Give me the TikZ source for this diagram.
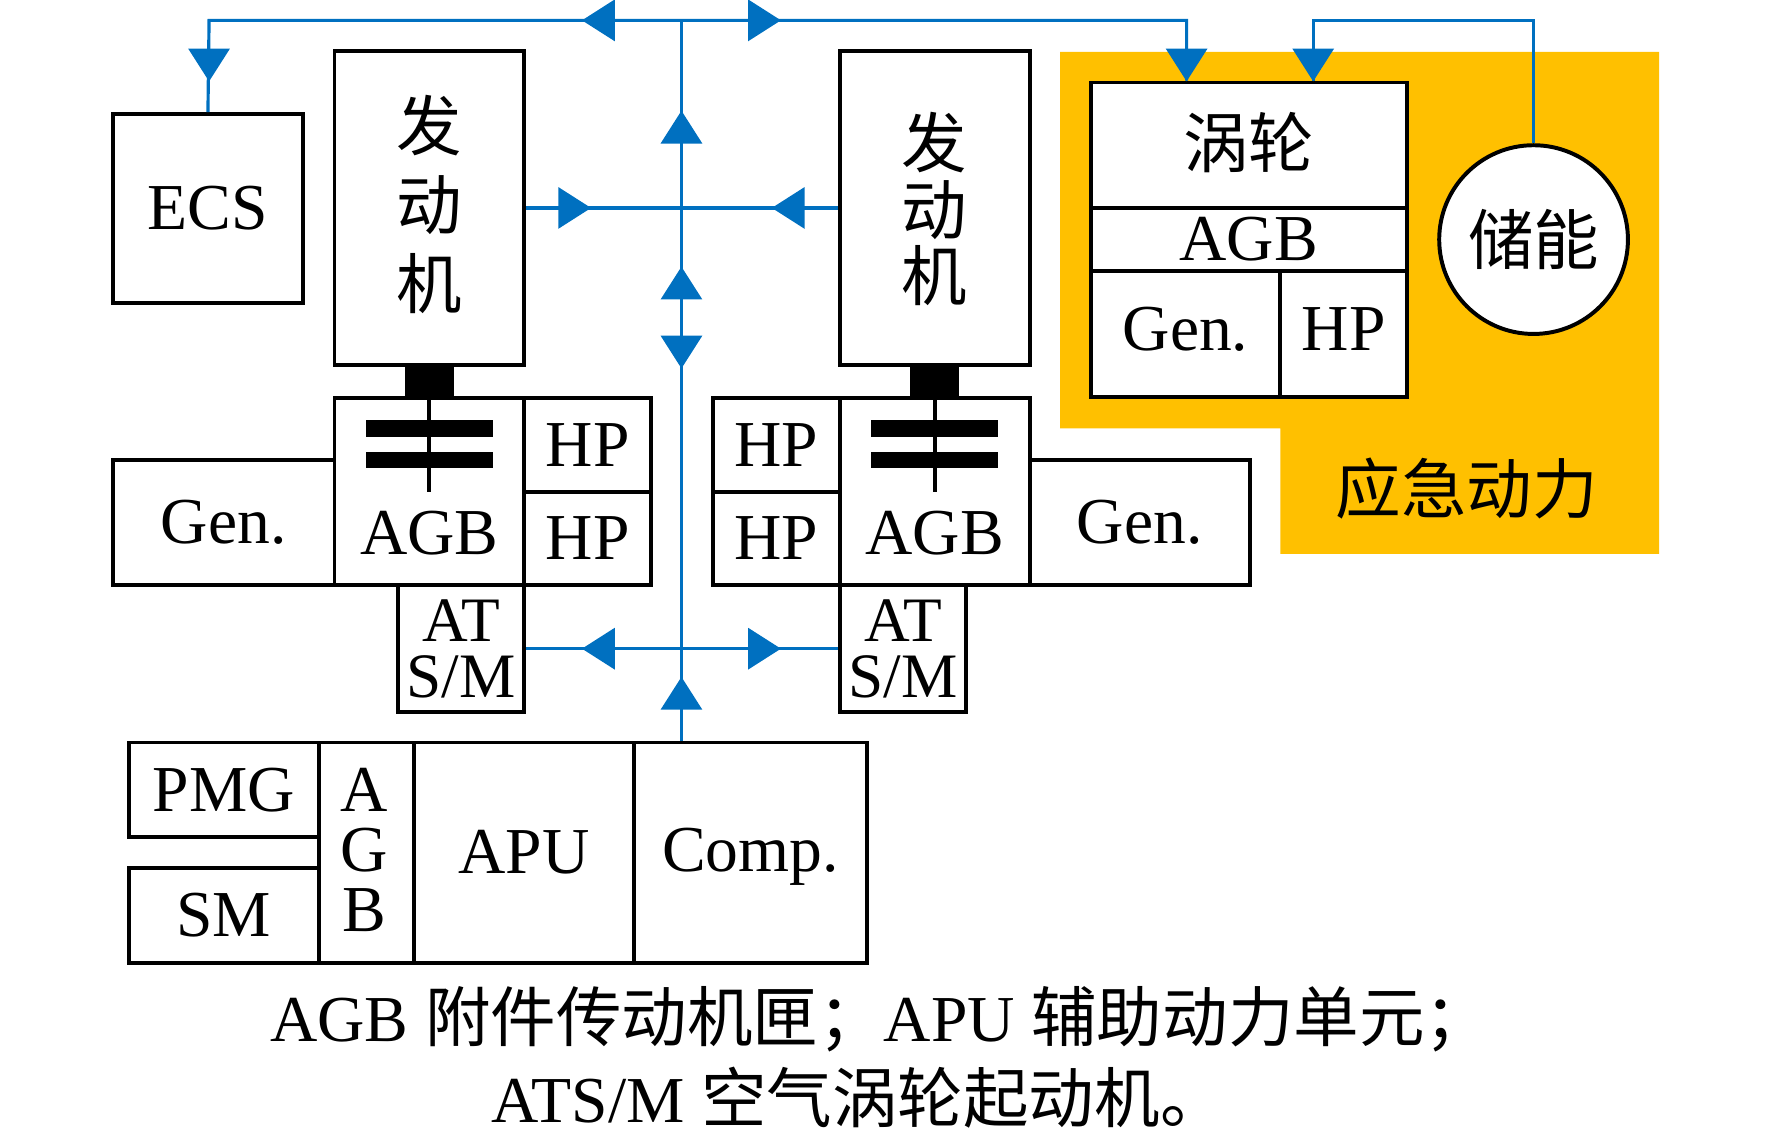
\documentclass[tikz,border=0pt]{standalone}
\usepackage{fontspec}
\setmainfont{Liberation Serif}
\newfontfamily\cjk{Noto Sans CJK SC}
\definecolor{bl}{HTML}{0070C0}
\definecolor{amber}{HTML}{FFC000}
\newcommand\arr[4]{\fill[bl] (#1,#2) -- ({#1-29*#3+18.5*#4},{#2-29*#4-18.5*#3}) -- ({#1-29*#3-18.5*#4},{#2-29*#4+18.5*#3}) -- cycle;}
\tikzset{
  box/.style={draw=black, line width=3.5pt, inner sep=0pt, fill=white, font=\fontsize{58}{58}\selectfont},
  bus/.style={draw=bl, line width=2.8pt},
  lat/.style={font=\fontsize{58}{58}\selectfont, inner sep=0pt},
  han/.style={font=\cjk\fontsize{58}{58}\selectfont, inner sep=0pt},
  bar/.style={fill=black},
}
\begin{document}
\begin{tikzpicture}[x=1pt,y=-1pt]
\useasboundingbox (0,0) rectangle (1568,1010);
% emergency power background
\fill[amber] (938,46) -- (1468,46) -- (1468,490) -- (1133,490) -- (1133,379) -- (938,379) -- cycle;
\node[han] (emlabel) at (1298,432) {应急动力};

% boxes
\node[box, minimum width=168pt, minimum height=167pt] (ecs) at (184,184.5) {ECS};
\node[box, minimum width=168pt, minimum height=278pt] (engL) at (380,184) {};
\node[han, align=center, font=\cjk\fontsize{58}{70}\selectfont] (engLt) at (380,181) {发\\动\\机};
\node[box, minimum width=168pt, minimum height=278pt] (engR) at (827,184) {};
\node[han, align=center, font=\cjk\fontsize{58}{59}\selectfont] (engRt) at (827,185) {发\\动\\机};

\node[box, fill=black, minimum width=40pt, minimum height=29pt] (shaftL) at (380,337.5) {};
\node[box, fill=black, minimum width=40pt, minimum height=29pt] (shaftR) at (827,337.5) {};

\node[box, minimum width=168pt, minimum height=166pt] (agbL) at (380,435) {};
\node[lat] (agbLt) at (380,472) {AGB};
\node[box, minimum width=112pt, minimum height=83pt] (hpL1) at (520,393.5) {HP};
\node[box, minimum width=112pt, minimum height=83pt] (hpL2) at (520,476.5) {HP};
\node[box, minimum width=196pt, minimum height=111pt] (genL) at (198,462.5) {Gen.};
\node[box, minimum width=112pt, minimum height=112pt, align=center, font=\fontsize{56}{50}\selectfont] (atsmL) at (408,574) {AT\\S/M};

\node[box, minimum width=168pt, minimum height=166pt] (agbR) at (827,435) {};
\node[lat] (agbRt) at (827,472) {AGB};
\node[box, minimum width=112pt, minimum height=83pt] (hpR1) at (687,393.5) {HP};
\node[box, minimum width=112pt, minimum height=83pt] (hpR2) at (687,476.5) {HP};
\node[box, minimum width=195pt, minimum height=111pt] (genR) at (1008.5,462.5) {Gen.};
\node[box, minimum width=112pt, minimum height=112pt, align=center, font=\fontsize{56}{50}\selectfont] (atsmR) at (799,574) {AT\\S/M};

% clutches
\draw[line width=3.5pt] (agbL.north) -- (380,435);
\fill[bar] (324,372) rectangle (436,387);
\fill[bar] (324,400) rectangle (436,414);
\draw[line width=3.5pt] (agbR.north) -- (827,435);
\fill[bar] (771,372) rectangle (883,387);
\fill[bar] (771,400) rectangle (883,414);

% APU group
\node[box, minimum width=168pt, minimum height=84pt] (pmg) at (198,699) {PMG};
\node[box, minimum width=168pt, minimum height=84pt] (sm) at (198,810) {SM};
\node[box, minimum width=84pt, minimum height=195pt] (agbA) at (324,754.5) {};
\node[lat, align=center, font=\fontsize{58}{53}\selectfont] (agbAt) at (322,752) {A\\G\\B};
\node[box, minimum width=195pt, minimum height=195pt] (apu) at (463.5,754.5) {APU};
\node[box, minimum width=206pt, minimum height=195pt] (comp) at (664,754.5) {};
\node[lat, anchor=base] (compt) at (664,771) {Comp.};

% turbine group
\node[box, minimum width=280pt, minimum height=111pt] (turb) at (1105,128.5) {};
\node[han] (turbt) at (1105,126) {涡轮};
\node[box, minimum width=280pt, minimum height=56pt] (agbT) at (1105,212) {AGB};
\node[box, minimum width=168pt, minimum height=111pt] (genT) at (1049,295.5) {};
\node[lat] (genTt) at (1049,291) {Gen.};
\node[box, minimum width=112pt, minimum height=111pt] (hpT) at (1189,295.5) {};
\node[lat] (hpTt) at (1189,291) {HP};
\node[box, circle, minimum size=167pt] (stor) at (1357,212) {};
\node[han] (stort) at (1357,212) {储能};

% bus lines
\coordinate (busTop) at (603,18);
\draw[bus] (ecs.north) -- (185,18) -- (1050,18) -- (turb.north -| 1050,0);
\draw[bus] (busTop) -- (comp.north -| busTop);
\draw[bus] (engL.east) -- (engR.west);
\draw[bus] (atsmL.east) -- (atsmR.west);
\draw[bus] (stor.north) -- (1357,18) -- (1162,18) -- (turb.north -| 1162,0);

% arrowheads
\arr{515}{18}{-1}{0}
\arr{691}{18}{1}{0}
\arr{185}{72}{0}{1}
\arr{1050}{72}{0}{1}
\arr{1162}{72}{0}{1}
\arr{603}{98}{0}{-1}
\arr{603}{236}{0}{-1}
\arr{603}{326}{0}{1}
\arr{603}{599}{0}{-1}
\arr{523}{184}{1}{0}
\arr{683}{184}{-1}{0}
\arr{515}{574}{-1}{0}
\arr{691}{574}{1}{0}

% caption
\node[lat, anchor=base west] (cap1) at (239,922) {AGB {\cjk 附件传动机匣；}APU {\cjk 辅助动力单元；}};
\node[lat, anchor=base west] (cap2) at (435,993) {ATS/M {\cjk 空气涡轮起动机。}};
\end{tikzpicture}
\end{document}
